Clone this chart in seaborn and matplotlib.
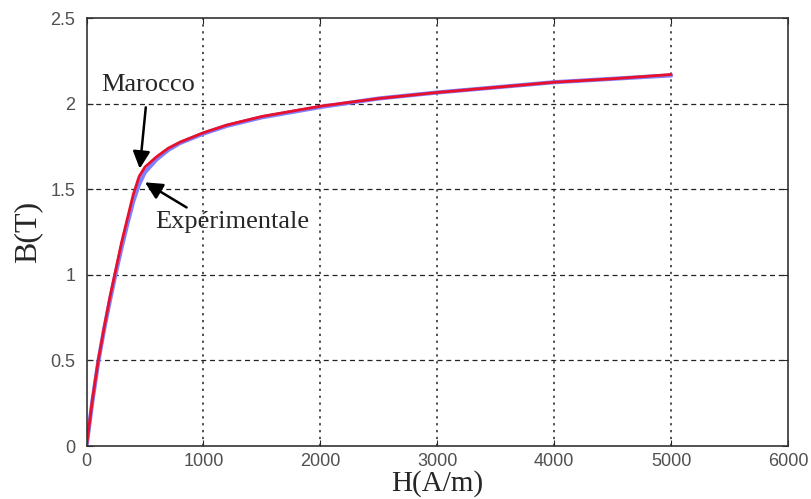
import numpy as np
import pandas as pd
import matplotlib
matplotlib.use("Agg")
import matplotlib.pyplot as plt
import seaborn as sns

# B-H curve values
H = [0, 50, 100, 150, 200, 250, 300, 350, 400, 450, 500, 600, 700, 800,
     1000, 1200, 1500, 2000, 2500, 3000, 3500, 4000, 4500, 5000]
B_marocco = [0, 0.27, 0.50, 0.69, 0.87, 1.03, 1.19, 1.33, 1.47, 1.575, 1.63,
             1.69, 1.74, 1.775, 1.83, 1.875, 1.925, 1.985, 2.03, 2.065,
             2.095, 2.125, 2.145, 2.17]
B_exp = [0, 0.26, 0.49, 0.68, 0.85, 1.01, 1.16, 1.30, 1.43, 1.53, 1.60,
         1.675, 1.73, 1.77, 1.825, 1.87, 1.92, 1.98, 2.03, 2.065,
         2.095, 2.125, 2.145, 2.165]

x_ticks = [0, 1000, 2000, 3000, 4000, 5000, 6000]
y_ticks = [0, 0.5, 1, 1.5, 2, 2.5]

sns.set_style("white")

fig = plt.figure(figsize=(8.11, 4.99), dpi=100)
ax = fig.add_axes([0.1067, 0.1062, 0.865, 0.8577])

sns.lineplot(x=H, y=B_exp, ax=ax, color="#7f7fff", linewidth=3.0)
sns.lineplot(x=H, y=B_marocco, ax=ax, color="#e8102a", linewidth=2.0)

ax.set_xlim(0, 6000)
ax.set_ylim(0, 2.5)
ax.set_xticks(x_ticks)
ax.set_yticks(y_ticks)
ax.set_xticklabels([str(t) for t in x_ticks])
ax.set_yticklabels(["0", "0.5", "1", "1.5", "2", "2.5"])

# matlab-ish grid: dotted verticals, dashed horizontals
for xv in x_ticks[1:-1]:
    ax.axvline(xv, color="#222222", linestyle=(0, (1.5, 3)), linewidth=1.1, zorder=0)
for yv in y_ticks[1:-1]:
    ax.axhline(yv, color="#222222", linestyle=(0, (4, 3)), linewidth=0.9, zorder=0)

ax.tick_params(direction="in", length=4, labelsize=13, labelcolor="#505050",
               top=True, right=True, bottom=True, left=True)
ax.tick_params(axis="x", pad=5)
ax.tick_params(axis="y", pad=8)
for lbl in ax.get_xticklabels() + ax.get_yticklabels():
    lbl.set_family("Liberation Sans")
for s in ax.spines.values():
    s.set_color("#333333")
    s.set_linewidth(1.2)

ax.set_xlabel("H(A/m)", fontsize=21, family="Liberation Serif", labelpad=0)
ax.set_ylabel("B(T)", fontsize=23, family="Liberation Serif", labelpad=6)

ax.annotate("Marocco", xy=(455, 1.62), xytext=(526, 2.11),
            ha="center", va="center", fontsize=19, family="Liberation Serif",
            arrowprops=dict(arrowstyle="-|>", color="black", lw=1.8,
                            mutation_scale=26, shrinkA=6, shrinkB=0))
ax.annotate("Expérimentale", xy=(500, 1.54), xytext=(586, 1.31),
            ha="left", va="center", fontsize=19, family="Liberation Serif",
            arrowprops=dict(arrowstyle="-|>", color="black", lw=1.8,
                            mutation_scale=26, shrinkA=0, shrinkB=0,
                            relpos=(0.24, 1.0)))

fig.savefig("out.png", dpi=100)
